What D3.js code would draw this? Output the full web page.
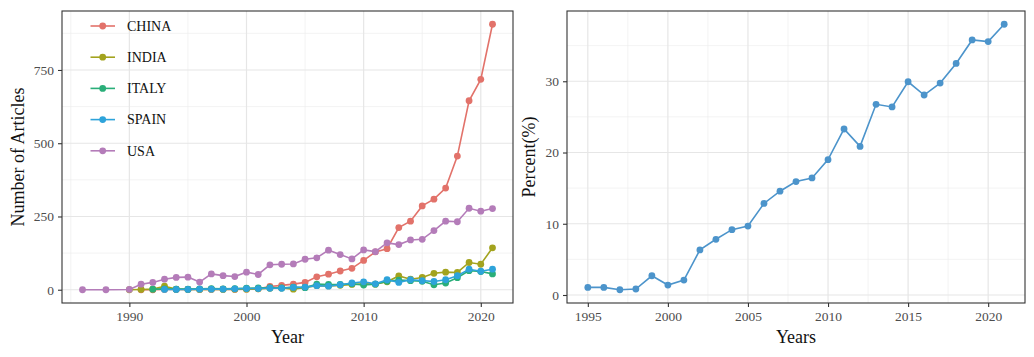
<!DOCTYPE html>
<html>
<head>
<meta charset="utf-8">
<script src="https://cdn.jsdelivr.net/npm/d3@7"></script>
<style>
  html, body { margin: 0; padding: 0; background: #fff; }
  svg { display: block; font-family: "Liberation Serif", "Times New Roman", serif; }
</style>
</head>
<body>
<svg id="chart" width="1034" height="357"></svg>
<script>
// ---------- DATA ----------
const countries = ["CHINA", "INDIA", "ITALY", "SPAIN", "USA"];

const chinaYears = d3.range(1991, 2022);
const chinaValues = [0, 0, 1, 1, 1, 1, 1, 2, 1, 2, 3, 11, 15, 19, 25, 44, 53, 64, 73, 100, 129, 140, 212, 234, 286, 309, 347, 456, 645, 718, 906];

const indiaYears = d3.range(1990, 2022);
const indiaValues = [0, 1, 2, 12, 2, 1, 1, 2, 1, 2, 2, 3, 5, 6, 2, 8, 14, 13, 15, 18, 20, 19, 27, 47, 36, 42, 56, 60, 59, 93, 87, 143];

const italyYears = d3.range(1992, 2022);
const italyValues = [2, 3, 2, 2, 3, 4, 3, 4, 5, 6, 7, 6, 9, 7, 19, 18, 18, 20, 16, 19, 29, 33, 31, 29, 17, 23, 41, 65, 62, 54];

const spainYears = d3.range(1993, 2022);
const spainValues = [1, 1, 1, 2, 2, 2, 3, 4, 4, 5, 5, 8, 9, 14, 12, 17, 23, 27, 20, 34, 25, 34, 31, 28, 34, 48, 70, 63, 70];

const usaYears = [1986, 1988].concat(d3.range(1990, 2022));
const usaValues = [0, 0, 1, 19, 25, 36, 42, 43, 26, 54, 48, 45, 60, 52, 85, 87, 88, 104, 109, 135, 120, 105, 136, 130, 160, 154, 170, 172, 202, 234, 232, 278, 268, 277];

const leftXTicks = [1990, 2000, 2010, 2020];
const leftYTicks = [0, 250, 500, 750];

const pctYears = d3.range(1995, 2022);
const pctValues = [1.07, 1.07, 0.74, 0.84, 2.7, 1.4, 2.1, 6.33, 7.82, 9.17, 9.68, 12.85, 14.57, 15.92, 16.43, 19.0, 23.3, 20.86, 26.77, 26.4, 29.93, 28.07, 29.75, 32.5, 35.8, 35.57, 38.0];

const rightXTicks = [1995, 2000, 2005, 2010, 2015, 2020];
const rightYTicks = [0, 10, 20, 30];

// ---------- STYLE ----------
const colors = {
  CHINA: "#E2726A", INDIA: "#A3A31E", ITALY: "#2AAE79", SPAIN: "#2EA3DA", USA: "#B47CB9"
};
const pctColor = "#4C94CB";

const svg = d3.select("#chart");

function expand(ext) {
  const r = ext[1] - ext[0];
  return [ext[0] - r * 0.05, ext[1] + r * 0.05];
}

function panel(opts) {
  const { x0, x1, y0, y1, xDom, yDom, xTicks, yTicks, xMinor, yMinor, xTitle, yTitle, yTitleX } = opts;
  const x = d3.scaleLinear().domain(xDom).range([x0, x1]);
  const y = d3.scaleLinear().domain(yDom).range([y1, y0]);
  const g = svg.append("g");

  // minor grid
  g.selectAll(".xminor").data(xMinor.filter(v => v > xDom[0] && v < xDom[1])).join("line")
    .attr("x1", d => x(d)).attr("x2", d => x(d)).attr("y1", y0).attr("y2", y1)
    .attr("stroke", "#ebebeb").attr("stroke-width", 0.6);
  g.selectAll(".yminor").data(yMinor.filter(v => v > yDom[0] && v < yDom[1])).join("line")
    .attr("y1", d => y(d)).attr("y2", d => y(d)).attr("x1", x0).attr("x2", x1)
    .attr("stroke", "#ebebeb").attr("stroke-width", 0.6);
  // major grid
  g.selectAll(".xmajor").data(xTicks).join("line")
    .attr("x1", d => x(d)).attr("x2", d => x(d)).attr("y1", y0).attr("y2", y1)
    .attr("stroke", "#e6e6e6").attr("stroke-width", 1.2);
  g.selectAll(".ymajor").data(yTicks).join("line")
    .attr("y1", d => y(d)).attr("y2", d => y(d)).attr("x1", x0).attr("x2", x1)
    .attr("stroke", "#e6e6e6").attr("stroke-width", 1.2);

  // axes
  const xAxis = d3.axisBottom(x).tickValues(xTicks).tickSize(4).tickPadding(4).tickFormat(d3.format("d"));
  const yAxis = d3.axisLeft(y).tickValues(yTicks).tickSize(4).tickPadding(4).tickFormat(d3.format("d"));
  const gx = svg.append("g").attr("transform", `translate(0,${y1})`).call(xAxis);
  const gy = svg.append("g").attr("transform", `translate(${x0},0)`).call(yAxis);
  [gx, gy].forEach(a => {
    a.select(".domain").remove();
    a.selectAll(".tick line").attr("stroke", "#333").attr("stroke-width", 1.1);
    a.selectAll(".tick text").attr("fill", "#4d4d4d").attr("font-size", "13.5px")
      .attr("font-family", "Liberation Serif, Times New Roman, serif");
  });

  // titles
  svg.append("text").attr("x", (x0 + x1) / 2).attr("y", 343).attr("text-anchor", "middle")
    .attr("font-size", "18px").attr("fill", "#111").text(xTitle);
  svg.append("text").attr("transform", `translate(${yTitleX},${(y0 + y1) / 2}) rotate(-90)`)
    .attr("text-anchor", "middle").attr("font-size", "18px").attr("fill", "#111").text(yTitle);

  return { x, y, g, border: () => svg.append("rect").attr("x", x0).attr("y", y0)
    .attr("width", x1 - x0).attr("height", y1 - y0).attr("fill", "none")
    .attr("stroke", "#333").attr("stroke-width", 1.1) };
}

// ---------- LEFT PANEL ----------
const series = [
  { name: "CHINA", years: chinaYears, values: chinaValues },
  { name: "INDIA", years: indiaYears, values: indiaValues },
  { name: "ITALY", years: italyYears, values: italyValues },
  { name: "SPAIN", years: spainYears, values: spainValues },
  { name: "USA", years: usaYears, values: usaValues }
].map(s => ({ name: s.name, pts: s.years.map((yr, i) => ({ yr, v: s.values[i] })) }));

const allYears = series.flatMap(s => s.pts.map(p => p.yr));
const allVals = series.flatMap(s => s.pts.map(p => p.v));

const L = panel({
  x0: 62, x1: 513, y0: 11, y1: 303,
  xDom: expand(d3.extent(allYears)), yDom: expand(d3.extent(allVals)),
  xTicks: leftXTicks, yTicks: leftYTicks,
  xMinor: [1985, 1995, 2005, 2015], yMinor: [125, 375, 625, 875],
  xTitle: "Year", yTitle: "Number of Articles", yTitleX: 24
});

const lineL = d3.line().x(d => L.x(d.yr)).y(d => L.y(d.v));
series.forEach(s => {
  L.g.append("path").datum(s.pts).attr("d", lineL).attr("fill", "none")
    .attr("stroke", colors[s.name]).attr("stroke-width", 1.6);
  L.g.selectAll(null).data(s.pts).join("circle")
    .attr("cx", d => L.x(d.yr)).attr("cy", d => L.y(d.v)).attr("r", 3.4)
    .attr("fill", colors[s.name]);
});
L.border();

// legend
const leg = svg.append("g");
countries.forEach((c, i) => {
  const cy = 26 + i * 31.2;
  leg.append("line").attr("x1", 90.5).attr("x2", 115).attr("y1", cy).attr("y2", cy)
    .attr("stroke", colors[c]).attr("stroke-width", 1.6);
  leg.append("circle").attr("cx", 102.7).attr("cy", cy).attr("r", 3.4).attr("fill", colors[c]);
  leg.append("text").attr("x", 127).attr("y", cy + 4.8).attr("font-size", "14px")
    .attr("fill", "#111").text(c);
});

// ---------- RIGHT PANEL ----------
const pct = pctYears.map((yr, i) => ({ yr, v: pctValues[i] }));
const R = panel({
  x0: 567, x1: 1025, y0: 11, y1: 303,
  xDom: expand(d3.extent(pctYears)), yDom: expand(d3.extent(pctValues)),
  xTicks: rightXTicks, yTicks: rightYTicks,
  xMinor: [1997.5, 2002.5, 2007.5, 2012.5, 2017.5], yMinor: [5, 15, 25, 35],
  xTitle: "Years", yTitle: "Percent(%)", yTitleX: 535
});
const lineR = d3.line().x(d => R.x(d.yr)).y(d => R.y(d.v));
R.g.append("path").datum(pct).attr("d", lineR).attr("fill", "none")
  .attr("stroke", pctColor).attr("stroke-width", 1.6);
R.g.selectAll(null).data(pct).join("circle")
  .attr("cx", d => R.x(d.yr)).attr("cy", d => R.y(d.v)).attr("r", 3.4).attr("fill", pctColor);
R.border();
</script>
</body>
</html>
